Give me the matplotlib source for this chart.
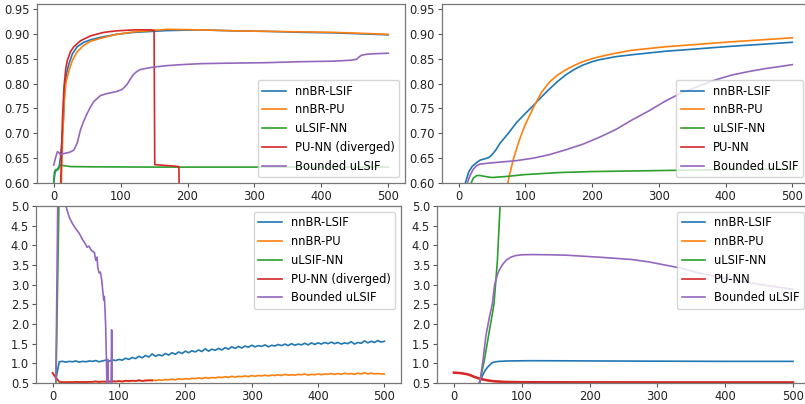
import numpy as np
import matplotlib
matplotlib.use("Agg")
import matplotlib.pyplot as plt

# ---- top-left: accuracy, PU-NN diverged ----
tl_blue_x = [0, 2, 5, 8, 10, 11.5, 13, 14.5, 16.5, 19, 23, 28, 35, 45, 55, 70, 94, 120, 169, 219, 270, 318, 370, 418, 460, 500]
tl_blue_y = [0.60, 0.622, 0.627, 0.633, 0.65, 0.673, 0.70, 0.727, 0.794, 0.82, 0.841, 0.86, 0.874, 0.883, 0.888, 0.893, 0.899, 0.903, 0.9065, 0.908, 0.906, 0.905, 0.903, 0.902, 0.900, 0.898]
tl_orange_x = [11, 13, 15.4, 18, 23, 28, 35, 45, 55, 70, 94, 120, 169, 219, 270, 318, 370, 418, 460, 500]
tl_orange_y = [0.58, 0.68, 0.76, 0.80, 0.827, 0.847, 0.864, 0.877, 0.885, 0.891, 0.899, 0.904, 0.909, 0.908, 0.906, 0.905, 0.904, 0.903, 0.901, 0.899]
tl_green_x = [0, 1, 3, 7, 9, 15, 25, 60, 150, 300, 500]
tl_green_y = [0.60, 0.622, 0.627, 0.627, 0.636, 0.635, 0.633, 0.6325, 0.632, 0.632, 0.632]
tl_red_x = [10, 10.5, 13, 15.4, 18, 20.4, 25, 30, 40, 55, 75, 94, 120, 145, 150, 151, 160, 170, 180, 187, 188]
tl_red_y = [0.55, 0.60, 0.727, 0.794, 0.83, 0.847, 0.864, 0.874, 0.886, 0.896, 0.903, 0.906, 0.908, 0.908, 0.907, 0.637, 0.636, 0.635, 0.634, 0.633, 0.55]
tl_purple_x = [0, 3, 5.5, 8, 10, 14, 18, 24, 30, 35, 40, 45, 50, 55, 60, 65, 70, 80, 94, 102, 109, 114, 119, 124, 129, 136, 144, 155, 169, 190, 219, 260, 318, 370, 418, 445, 453, 456, 460, 468, 480, 500]
tl_purple_y = [0.636, 0.652, 0.663, 0.661, 0.657, 0.659, 0.660, 0.662, 0.666, 0.680, 0.707, 0.725, 0.740, 0.753, 0.764, 0.770, 0.776, 0.780, 0.784, 0.788, 0.797, 0.808, 0.818, 0.824, 0.828, 0.830, 0.832, 0.834, 0.836, 0.838, 0.840, 0.841, 0.842, 0.844, 0.845, 0.847, 0.849, 0.853, 0.857, 0.859, 0.860, 0.861]

# ---- top-right: accuracy ----
tr_blue_x = [10, 15, 20, 26, 32, 40, 45, 50, 56, 62, 75, 87, 100, 112, 124, 136, 148, 161, 174, 186, 200, 211, 235, 260, 310, 360, 409, 455, 500]
tr_blue_y = [0.600, 0.622, 0.633, 0.640, 0.646, 0.649, 0.651, 0.657, 0.667, 0.680, 0.701, 0.722, 0.740, 0.756, 0.773, 0.789, 0.804, 0.818, 0.829, 0.837, 0.844, 0.848, 0.854, 0.858, 0.865, 0.870, 0.875, 0.879, 0.883]
tr_orange_x = [72, 76, 82, 90, 99, 112, 124, 136, 148, 161, 174, 186, 200, 211, 235, 260, 310, 360, 409, 455, 500]
tr_orange_y = [0.590, 0.615, 0.648, 0.683, 0.715, 0.752, 0.782, 0.803, 0.817, 0.828, 0.837, 0.844, 0.850, 0.854, 0.861, 0.867, 0.874, 0.879, 0.884, 0.888, 0.892]
tr_green_x = [18, 22, 27, 32, 40, 50, 60, 70, 85, 100, 125, 150, 200, 250, 300, 400, 500]
tr_green_y = [0.598, 0.610, 0.615, 0.615, 0.613, 0.611, 0.612, 0.613, 0.615, 0.617, 0.619, 0.621, 0.623, 0.624, 0.625, 0.627, 0.628]
tr_red_x = [0, 100, 200, 300, 400, 500]
tr_red_y = [0.52, 0.51, 0.50, 0.50, 0.50, 0.50]
tr_purple_x = [13, 17, 22, 27, 32, 45, 62, 87, 112, 136, 161, 186, 211, 236, 260, 285, 310, 335, 360, 384, 409, 434, 459, 480, 500]
tr_purple_y = [0.600, 0.615, 0.628, 0.635, 0.638, 0.640, 0.642, 0.645, 0.650, 0.657, 0.667, 0.678, 0.692, 0.708, 0.727, 0.745, 0.765, 0.782, 0.795, 0.807, 0.817, 0.824, 0.830, 0.834, 0.838]

# ---- bottom-left: loss, PU-NN diverged ----
bl_blue_x = list(range(5, 501, 5))
bl_blue_y = [0.60, 1.04, 1.05, 1.03, 1.05, 1.04, 1.06, 1.03, 1.05, 1.04, 1.06, 1.05, 1.07, 1.04, 1.06, 1.08, 1.05, 1.09, 1.07, 1.10,
             1.08, 1.13, 1.10, 1.15, 1.12, 1.18, 1.14, 1.20, 1.16, 1.24, 1.18, 1.22, 1.19, 1.25, 1.21, 1.27, 1.23, 1.29, 1.25, 1.31,
             1.27, 1.32, 1.29, 1.34, 1.30, 1.37, 1.31, 1.36, 1.33, 1.38, 1.34, 1.40, 1.36, 1.42, 1.38, 1.43, 1.39, 1.44, 1.41, 1.46,
             1.42, 1.45, 1.43, 1.47, 1.42, 1.46, 1.44, 1.48, 1.45, 1.49, 1.45, 1.50, 1.46, 1.49, 1.47, 1.51, 1.47, 1.52, 1.48, 1.52,
             1.49, 1.53, 1.50, 1.54, 1.50, 1.53, 1.49, 1.52, 1.50, 1.55, 1.49, 1.53, 1.51, 1.57, 1.52, 1.56, 1.53, 1.58, 1.54, 1.56]
bl_orange_x = list(range(0, 501, 5))
bl_orange_y = [0.75, 0.62, 0.53, 0.52, 0.52, 0.53, 0.52, 0.52, 0.53, 0.52, 0.53, 0.52, 0.53, 0.54, 0.52, 0.53, 0.54, 0.53, 0.54, 0.53,
               0.55, 0.53, 0.55, 0.54, 0.56, 0.55, 0.57, 0.55, 0.57, 0.56, 0.58, 0.56, 0.58, 0.57, 0.59, 0.58, 0.60, 0.58, 0.61, 0.59,
               0.61, 0.60, 0.62, 0.61, 0.63, 0.61, 0.64, 0.62, 0.64, 0.63, 0.65, 0.64, 0.66, 0.64, 0.67, 0.65, 0.67, 0.66, 0.68, 0.66,
               0.69, 0.67, 0.69, 0.68, 0.70, 0.68, 0.70, 0.69, 0.71, 0.69, 0.72, 0.70, 0.71, 0.70, 0.72, 0.71, 0.73, 0.70, 0.72, 0.71,
               0.73, 0.71, 0.73, 0.72, 0.74, 0.72, 0.74, 0.72, 0.75, 0.73, 0.74, 0.72, 0.75, 0.73, 0.76, 0.73, 0.75, 0.73, 0.74, 0.73, 0.73]
bl_green_x = [5, 10, 20]
bl_green_y = [0.45, 5.5, 12.0]
bl_red_x = list(range(0, 151, 5))
bl_red_y = [0.76, 0.64, 0.53, 0.52, 0.52, 0.52, 0.52, 0.53, 0.52, 0.53, 0.52, 0.53, 0.53, 0.54, 0.53, 0.54,
            0.53, 0.54, 0.55, 0.54, 0.55, 0.54, 0.56, 0.55, 0.56, 0.55, 0.57, 0.55, 0.56, 0.57, 0.56]
bl_purple_x = [5, 8, 12, 16, 20, 25, 30, 35, 40, 45, 50, 52, 55, 58, 60, 63, 65, 67, 68, 70, 72, 74, 75, 77, 78, 79, 80, 81, 82, 83, 84, 88, 89, 90]
bl_purple_y = [0.55, 5.5, 7.0, 6.0, 5.0, 4.72, 4.55, 4.42, 4.31, 4.15, 4.02, 3.95, 3.98, 3.88, 3.85, 3.82, 3.62, 3.70, 3.45, 3.30, 3.32, 3.12, 2.95, 2.61, 2.70, 2.35, 1.93, 1.17, 0.30, 1.10, 0.30, 0.30, 1.85, 0.30]

# ---- bottom-right: loss ----
br_blue_x = [37, 40, 42.5, 46, 50, 54, 57, 62, 67, 80, 100, 116, 150, 213, 300, 400, 500]
br_blue_y = [0.50, 0.60, 0.706, 0.82, 0.91, 0.98, 1.02, 1.04, 1.05, 1.06, 1.065, 1.067, 1.065, 1.06, 1.055, 1.05, 1.05]
br_orange_x = [0, 10, 20, 25, 30, 35, 40, 45, 50, 55, 60, 70, 80, 100, 150, 200, 300, 400, 500]
br_orange_y = [0.763, 0.75, 0.72, 0.69, 0.655, 0.625, 0.60, 0.58, 0.565, 0.552, 0.542, 0.532, 0.525, 0.52, 0.517, 0.516, 0.515, 0.515, 0.515]
br_green_x = [38, 45, 52, 59, 64, 68, 72]
br_green_y = [0.5, 1.1, 1.8, 2.5, 3.6, 5.0, 6.5]
br_red_x = br_orange_x
br_red_y = [0.763, 0.752, 0.722, 0.692, 0.657, 0.627, 0.602, 0.582, 0.566, 0.553, 0.543, 0.533, 0.526, 0.521, 0.518, 0.516, 0.515, 0.515, 0.515]
br_purple_x = [38, 43, 47, 52, 56.5, 60, 64, 67, 72, 77, 84, 91, 100, 116, 140, 165, 213, 262, 287, 311, 335, 360, 409, 457, 500]
br_purple_y = [0.5, 1.1, 1.69, 2.15, 2.5, 3.0, 3.25, 3.38, 3.52, 3.62, 3.70, 3.74, 3.76, 3.765, 3.76, 3.75, 3.70, 3.64, 3.58, 3.50, 3.42, 3.30, 3.13, 2.99, 2.88]

names_div = ["nnBR-LSIF", "nnBR-PU", "uLSIF-NN", "PU-NN (diverged)", "Bounded uLSIF"]
names = ["nnBR-LSIF", "nnBR-PU", "uLSIF-NN", "PU-NN", "Bounded uLSIF"]
colors = ["C0", "C1", "C2", "C3", "C4"]

FS = 8.3
W, H = 805, 404
fig = plt.figure(figsize=(W / 100, H / 100), dpi=100)


def px_axes(x0, x1, y0, y1):
    # pixel box (left, right, top, bottom) -> figure fraction
    return fig.add_axes([x0 / W, 1 - y1 / H, (x1 - x0) / W, (y1 - y0) / H])


ax_tl = px_axes(37, 405, 4, 183)
ax_tr = px_axes(442, 809, 4, 183)
ax_bl = px_axes(36, 401, 206, 383)
ax_br = px_axes(437, 810, 206, 383)

panels = [
    (ax_tl, [(tl_blue_x, tl_blue_y), (tl_orange_x, tl_orange_y), (tl_green_x, tl_green_y), (tl_red_x, tl_red_y), (tl_purple_x, tl_purple_y)],
     names_div, (0.60, 0.96), "lower right"),
    (ax_tr, [(tr_blue_x, tr_blue_y), (tr_orange_x, tr_orange_y), (tr_green_x, tr_green_y), (tr_red_x, tr_red_y), (tr_purple_x, tr_purple_y)],
     names, (0.60, 0.96), "lower right"),
    (ax_bl, [(bl_blue_x, bl_blue_y), (bl_orange_x, bl_orange_y), (bl_green_x, bl_green_y), (bl_red_x, bl_red_y), (bl_purple_x, bl_purple_y)],
     names_div, (0.5, 5.0), "upper right"),
    (ax_br, [(br_blue_x, br_blue_y), (br_orange_x, br_orange_y), (br_green_x, br_green_y), (br_red_x, br_red_y), (br_purple_x, br_purple_y)],
     names, (0.5, 5.0), "upper right"),
]

for ax, series, labels, ylim, loc in panels:
    for (xs, ys), c, lab in zip(series, colors, labels):
        lw = 1.8 if (ax is ax_br and c == "C3") else 1.2
        ax.plot(xs, ys, color=c, lw=lw, label=lab)
    ax.set_xlim(-25, 525)
    ax.set_ylim(*ylim)
    ax.set_xticks([0, 100, 200, 300, 400, 500])
    if ylim[1] < 1:
        ax.set_yticks(np.arange(0.60, 0.951, 0.05))
        ax.yaxis.set_major_formatter(matplotlib.ticker.FormatStrFormatter("%.2f"))
    else:
        ax.set_yticks(np.arange(0.5, 5.01, 0.5))
        ax.yaxis.set_major_formatter(matplotlib.ticker.FormatStrFormatter("%.1f"))
    ax.tick_params(labelsize=FS, colors="#555555", labelcolor="#222222", width=0.8, length=3, pad=2)
    for s in ax.spines.values():
        s.set_color("#777777")
        s.set_linewidth(0.9)
    leg = ax.legend(loc=loc, fontsize=FS, handlelength=2.0)
    for line in leg.get_lines():
        line.set_linewidth(1.2)

fig.savefig("out.png", dpi=100)
